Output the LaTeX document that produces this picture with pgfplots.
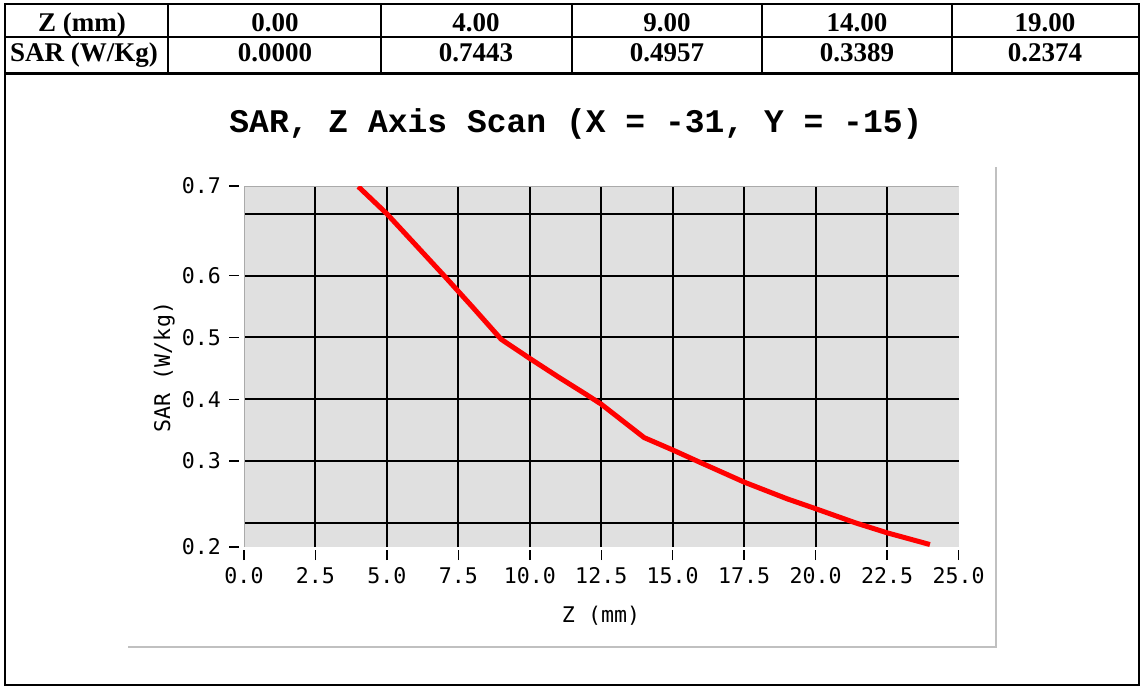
\documentclass[border=0pt]{standalone}
\usepackage{pgfplots}
\pgfplotsset{compat=1.18}
\usepackage{fontspec}
\setmainfont{Liberation Serif}
\newfontfamily\monofont{DejaVu Sans Mono}
\newfontfamily\titlefont{Liberation Mono}
\definecolor{plotbg}{RGB}{224,224,224}
\definecolor{panelline}{RGB}{192,192,192}
\definecolor{edgeline}{RGB}{170,170,170}

\begin{document}
\begin{tikzpicture}
\path[use as bounding box] (0pt,0pt) rectangle (1142pt,-687pt);

% table frame
\draw[line width=2.5pt] (5pt,-4pt) rectangle (1139pt,-685pt);
\draw[line width=2.5pt] (5pt,-37pt) -- (1139pt,-37pt);
\draw[line width=2.5pt] (5pt,-73.5pt) -- (1139pt,-73.5pt);
\foreach \x in {168,381,572,762,952}
  \draw[line width=2.5pt] (\x pt,-4pt) -- (\x pt,-73.5pt);

\begin{scope}[every node/.style={anchor=base, font=\fontsize{27}{28}\selectfont\bfseries}]
  \node at (82pt,-32pt) {Z (mm)};
  \node at (84pt,-62pt) {SAR (W/Kg)};
  \node at (275pt,-32pt) {0.00};
  \node at (275pt,-62pt) {0.0000};
  \node at (476pt,-32pt) {4.00};
  \node at (476pt,-62pt) {0.7443};
  \node at (667pt,-32pt) {9.00};
  \node at (667pt,-62pt) {0.4957};
  \node at (857pt,-32pt) {14.00};
  \node at (857pt,-62pt) {0.3389};
  \node at (1045pt,-32pt) {19.00};
  \node at (1045pt,-62pt) {0.2374};
\end{scope}

% chart panel shadow lines
\draw[panelline, line width=2pt] (128pt,-647pt) -- (996pt,-647pt) -- (996pt,-167pt);

% title and axis labels
\node[anchor=base] at (576pt,-133pt)
  {\titlefont\bfseries\fontsize{33}{36}\selectfont SAR, Z Axis Scan (X = -31, Y = -15)};
\node[rotate=90, anchor=base] at (170pt,-367pt)
  {\monofont\fontsize{21.6}{24}\selectfont SAR (W/kg)};
\node[anchor=base] at (601pt,-622pt)
  {\monofont\fontsize{21.6}{24}\selectfont Z (mm)};

\begin{axis}[
  at={(244pt,-547pt)}, anchor=south west,
  width=714.5pt, height=361pt, scale only axis,
  xmin=0, xmax=25, ymin=0.161, ymax=0.745,
  axis line style={draw=none},
  axis background/.style={fill=plotbg},
  tick pos=left,
  xtick={0,2.5,...,25},
  xticklabels={0.0,2.5,5.0,7.5,10.0,12.5,15.0,17.5,20.0,22.5,25.0},
  ytick={0.161,0.3,0.4,0.5,0.6,0.745},
  yticklabels={0.2,0.3,0.4,0.5,0.6,0.7},
  tick align=outside, major tick length=10pt,
  xtick style={black, line width=1.5pt, yshift=-3pt},
  ytick style={black, line width=1.5pt, xshift=-5pt},
  ticklabel style={font=\monofont\fontsize{21.6}{24}\selectfont},
  xticklabel style={anchor=base, yshift=-26pt},
  yticklabel style={anchor=east, inner sep=0pt, xshift=-13pt},
  extra x ticks={2.5,5,...,22.5}, extra x tick labels={},
  extra x tick style={grid=major, major tick length=0pt},
  extra y ticks={0.2,0.3,...,0.7}, extra y tick labels={},
  extra y tick style={grid=major, major tick length=0pt},
  major grid style={black, line width=2pt},
]
\draw[edgeline, line width=2pt] (rel axis cs:0,0) -- (rel axis cs:0,1) -- (rel axis cs:1,1);
\addplot[red, line width=5pt, line join=round] coordinates {
  (4.0,0.744) (5.0,0.700) (6.0,0.650) (7.0,0.600) (8.0,0.549) (9.0,0.497)
  (10.0,0.466) (11.0,0.436) (12.0,0.407) (12.5,0.392) (13.0,0.374) (14.0,0.338)
  (15.0,0.318) (16.0,0.297) (17.5,0.266) (19.0,0.239) (20.0,0.223) (21.4,0.200)
  (22.5,0.184) (24.0,0.165)
};
\end{axis}
\end{tikzpicture}
\end{document}
